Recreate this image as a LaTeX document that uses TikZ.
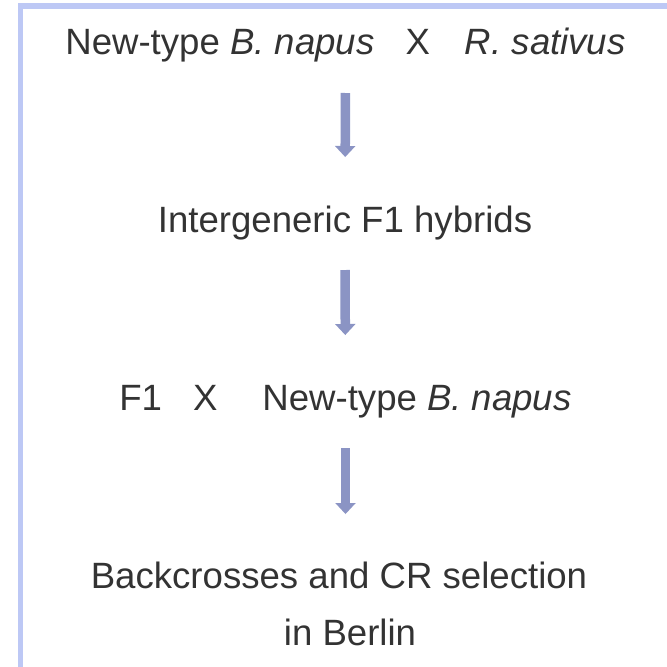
\documentclass[tikz,border=0pt]{standalone}
\usepackage{fontspec}
\setmainfont{Liberation Sans}
\usetikzlibrary{arrows.meta}
\definecolor{framecol}{RGB}{189,200,245}
\definecolor{arrowcol}{RGB}{139,148,196}
\definecolor{txtcol}{RGB}{51,51,51}
\begin{document}
\begin{tikzpicture}[x=1pt,y=-1pt,
  lbl/.style={anchor=base,inner sep=0pt,text=txtcol,font=\fontsize{36.6pt}{44pt}\selectfont},
  flow/.style={draw=arrowcol,line width=9.5pt,-{Triangle[width=20.5pt,length=11pt,line width=0pt,fill=arrowcol]}}]
\path[use as bounding box] (0,0) rectangle (667,667);
\clip (0,0) rectangle (667,667);
\draw[framecol,line width=5.5pt] (20.3,720) -- (20.3,5.8) -- (720,5.8);
\node[lbl] (t1) at (345.5,54) {New-type \textit{B. napus}\hspace{31pt}X\hspace{35pt}\textit{R. sativus}};
\node[lbl] (t2) at (345,232) {Intergeneric F1 hybrids};
\node[lbl] (t3) at (345.5,410) {F1\hspace{31pt}X\hspace{45pt}New-type \textit{B. napus}};
\node[lbl] (b4a) at (339,588) {Backcrosses and CR selection};
\node[lbl] (b4b) at (350,645) {in Berlin};
\draw[flow, shorten <=39pt, shorten >=75pt] (t1.base) -- (t2.base);
\draw[flow, shorten <=38pt, shorten >=75pt] (t2.base) -- (t3.base);
\draw[flow, shorten <=38pt, shorten >=74pt] (t3.base) -- (t3.base |- b4a.base);
\end{tikzpicture}
\end{document}
